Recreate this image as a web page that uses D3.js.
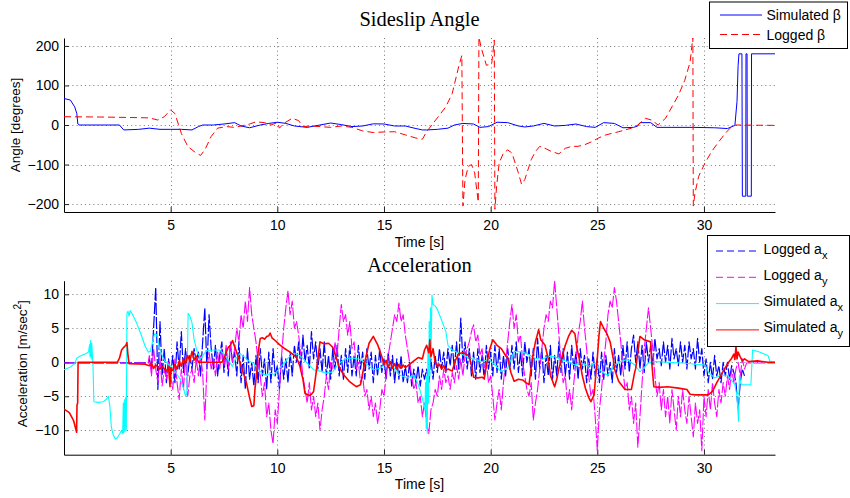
<!DOCTYPE html>
<html><head><meta charset="utf-8">
<script src="https://cdn.jsdelivr.net/npm/d3@7"></script>
<style>
body{margin:0;background:#fff}
svg{display:block}
text{font-family:"Liberation Sans",Arial,Helvetica,sans-serif;fill:#000}
.title{font-family:"Liberation Serif","Times New Roman",serif}
</style></head>
<body><svg id="c" width="850" height="498"></svg>
<script>
// ---------------- DATA ----------------
const timeDomain = [0, 33.33];
const timeTicks = [5, 10, 15, 20, 25, 30];
const angleDomain = [-220, 220];
const angleTicks = [-200, -100, 0, 100, 200];
const accDomain = [-13.6, 12];
const accTicks = [-10, -5, 0, 5, 10];

// Sideslip: [time s, angle deg]
const simBeta = [[0,67],[0.3,63],[0.5,46],[0.6,29],[0.65,2.5],[0.7,0],[2.6,0],[2.8,-12.5],[3.5,-11],[4,-8],[4.5,-11],[5,-11],[5.5,-11],[6,-12.5],[6.3,-4],[6.5,0],[7,0],[7.5,2.5],[8,6],[8.3,-2.5],[8.7,-7],[9.2,0],[9.6,4],[10,7],[10.4,4],[10.8,-2.5],[11.4,-6],[12,0],[12.5,5],[13,1],[13.5,-4],[14,-2.5],[14.5,3],[15,2.5],[15.5,-2.5],[16,-2.5],[16.5,-9],[16.8,-12.5],[17,-12.5],[17.5,-11],[18,-8],[18.3,0],[18.7,4],[19.2,2.5],[19.5,-6],[19.9,-4],[20.3,7],[20.8,6],[21.3,-2.5],[21.6,-5],[22,-2.5],[22.5,4],[23,-2.5],[23.5,-1],[24,2.5],[24.5,-4],[24.9,-6],[25.3,6],[25.8,4],[26.2,-7],[26.7,-6],[26.9,-2.5],[27,6],[27.5,6],[27.8,-6],[28.5,-6],[29.5,-6],[30.5,-7],[31.1,-9],[31.45,-1],[31.55,60],[31.6,150],[31.64,180],[31.78,180],[31.8,-180],[31.96,-180],[31.97,180],[32.02,180],[32.03,-180],[32.22,-180],[32.23,180],[33.33,180]];
const logBeta = [[0,21],[2,20],[3,19],[4,18],[4.4,12.5],[4.7,21],[5,38],[5.2,29],[5.5,-21],[5.8,-54],[6.1,-67],[6.4,-77],[6.6,-63],[6.9,-29],[7.2,-8],[7.6,-4],[8,-6],[8.3,-2.5],[8.7,2.5],[9,8],[9.4,6],[9.7,0],[10,6],[10.1,-8],[10.3,4],[10.7,17],[11,11],[11.2,-4],[11.6,-2.5],[12,-4],[12.5,-6],[13,-2.5],[13.5,-6],[14,-15],[14.5,-19],[15,-17.6],[15.5,-17],[16,-25],[16.5,-33],[16.8,-36],[17,-17],[17.3,4],[17.6,25],[17.9,46],[18.2,80],[18.5,147],[18.65,176],[18.7,-205],[18.8,-138],[18.95,-105],[19.1,-100],[19.25,-121],[19.42,-195],[19.45,222],[19.57,193],[19.8,151],[20.05,155],[20.17,215],[20.2,-213],[20.28,-155],[20.4,-96],[20.6,-71],[20.8,-63],[21,-71],[21.3,-121],[21.45,-150],[21.6,-138],[21.9,-88],[22.1,-67],[22.3,-54],[22.55,-59],[22.85,-67],[23.2,-73],[23.5,-59],[23.8,-54],[24.1,-54],[24.4,-50],[24.75,-42],[25.05,-33],[25.4,-25],[25.7,-21],[26,-17],[26.3,-12.6],[26.6,-8],[26.9,0],[27.25,17],[27.55,12.5],[27.85,0],[28.2,17],[28.5,46],[28.8,75],[29.1,113],[29.35,159],[29.48,222],[29.5,-205],[29.58,-172],[29.75,-130],[30.05,-96],[30.36,-67],[30.7,-42],[31,-21],[31.3,-4],[31.5,0],[33.33,-1]];

// Acceleration, simulated: [time s, m/s^2]
const simAx = [[0,-1.1],[0.3,-0.7],[0.5,-0.2],[0.6,0.6],[0.8,1.0],[1.05,1.3],[1.15,1.5],[1.2,2.6],[1.22,0.8],[1.25,3.2],[1.28,0.5],[1.3,2.8],[1.33,1.2],[1.36,-0.5],[1.4,-5.8],[1.6,-5.9],[1.85,-5.8],[2.0,-5.4],[2.08,-5.0],[2.15,-6.5],[2.22,-9.5],[2.3,-10.6],[2.4,-11.3],[2.5,-11.1],[2.6,-10.6],[2.7,-10.0],[2.75,-10.5],[2.78,-6],[2.8,-10.4],[2.83,-5.5],[2.86,-10.2],[2.89,-5.2],[2.92,-10],[2.95,7.2],[3.0,7.5],[3.05,6.8],[3.1,7.6],[3.2,7.1],[3.4,5.8],[3.6,4.2],[3.8,2.4],[3.95,1.5],[4.05,1.6],[4.15,3.0],[4.25,4.2],[4.35,4.0],[4.5,1.8],[4.7,0.3],[4.9,-0.3],[5.1,-0.8],[5.3,-1.8],[5.45,-2.5],[5.6,-3.8],[5.7,-5.0],[5.76,-4.5],[5.82,7.2],[5.9,6.8],[6.0,5.8],[6.1,3.3],[6.25,1.5],[6.4,0.5],[6.55,1.2],[6.7,1.7],[7.0,1.8],[7.3,1.8],[7.5,1.2],[7.7,0.3],[7.9,-0.6],[8.05,0.5],[8.25,1.3],[8.45,0.8],[8.6,0.3],[8.9,-0.2],[9.1,-1.0],[9.3,-1.7],[9.5,-1.9],[9.7,-1.6],[9.85,-1.8],[10.1,-0.9],[10.3,-0.2],[10.5,0.6],[10.75,1.3],[10.95,1.2],[11.2,0.6],[11.45,-0.3],[11.7,-1.1],[12.0,-1.3],[12.3,-1.6],[12.6,-1.4],[12.85,-0.3],[13.1,0.3],[13.3,0.6],[13.6,0.6],[13.9,0.4],[14.2,-0.3],[14.5,-1.1],[14.8,-0.9],[15.1,-0.2],[15.4,-0.6],[15.75,-1.9],[16.1,-2.3],[16.4,-1.9],[16.6,-3.2],[16.8,-5.3],[16.92,-7],[16.95,-3],[16.98,-9.7],[17.0,-2],[17.03,-10.4],[17.06,2],[17.09,-6],[17.12,6],[17.15,-2],[17.18,8],[17.21,2],[17.25,9.9],[17.3,8.5],[17.4,8.3],[17.5,7.8],[17.6,7.0],[17.75,5.8],[17.9,4.5],[18.0,2.5],[18.2,1.8],[18.35,1.6],[18.7,1.1],[19.0,0.6],[19.3,0.4],[19.6,0.1],[19.9,0.4],[20.2,-0.4],[20.5,-1.4],[20.8,-0.9],[21.1,1.6],[21.5,1.5],[21.8,1.1],[22.1,0.6],[22.4,0.4],[22.7,0.9],[23.0,0.8],[23.3,0.4],[23.6,0.1],[23.95,-0.4],[24.25,-0.1],[24.6,-0.6],[24.9,-0.1],[25.2,-1.4],[25.5,-1.9],[25.8,-0.4],[26.1,0.1],[26.4,0.4],[26.75,-0.4],[27.0,-1.4],[27.4,-0.1],[27.7,0.1],[28.3,0],[29.0,-0.1],[29.6,-0.3],[30.05,-0.4],[30.2,-1.4],[30.5,-2.3],[30.8,-1.9],[31.1,-1.9],[31.45,-3.3],[31.55,-5],[31.62,-8.7],[31.66,-2],[31.75,-3.3],[32.2,-3.3],[32.28,1.8],[32.6,1.5],[33.0,1.0],[33.1,0.1],[33.33,0]];
const simAy = [[0,-6.9],[0.25,-7.4],[0.45,-8.6],[0.55,-9.8],[0.59,-10.3],[0.61,-6.3],[0.64,-6.0],[0.66,0],[2.5,0],[2.6,0.6],[2.7,1.8],[2.8,2.2],[2.9,2.5],[2.95,2.9],[3.0,1.0],[3.05,-0.2],[3.8,-0.3],[4.0,-0.5],[4.1,-0.1],[4.2,-0.9],[4.3,-0.4],[4.5,-1.0],[4.6,-0.6],[4.8,-1.3],[4.9,-0.7],[4.97,-3.6],[5.0,-0.8],[5.1,-1.2],[5.2,-0.3],[5.3,-1.0],[5.4,0.2],[5.5,-0.6],[5.6,0.5],[5.7,-0.2],[5.8,1.0],[5.9,0.1],[6.0,1.6],[6.1,0.3],[6.2,0.9],[6.3,0],[7.4,0],[7.5,0.6],[7.6,1.4],[7.7,2.2],[7.8,2.5],[7.9,3.2],[8.0,2.3],[8.1,1.4],[8.25,0],[8.4,-1.5],[8.55,-3],[8.7,-5.2],[8.8,-6.5],[8.9,-6.4],[8.95,-4],[9.05,-1],[9.1,1.5],[9.2,3.5],[9.3,3.6],[9.4,3.4],[9.5,3.8],[9.6,3.9],[9.66,4.3],[9.75,3.6],[9.9,3.2],[10.1,2.6],[10.3,2.1],[10.6,1.5],[10.9,0.7],[11.05,-0.5],[11.2,-2.5],[11.3,-4.6],[11.5,-4.9],[11.6,-4.7],[11.7,-4.3],[11.8,-2],[11.9,0.5],[12.0,3.0],[12.2,2.7],[12.4,2.8],[12.5,2.5],[12.6,2.2],[12.75,0.8],[12.9,-0.7],[13.1,-1.8],[13.4,-2.9],[13.7,-3.6],[13.9,-3.3],[14.1,0],[14.3,2.8],[14.5,3.8],[14.7,2.6],[14.9,0.8],[15.0,-0.4],[15.1,0.3],[15.2,-0.8],[15.3,0.1],[15.4,-0.9],[15.5,-0.2],[15.6,-1.0],[15.7,-0.3],[15.8,-0.9],[15.9,-0.4],[16.0,-0.8],[16.2,-0.3],[16.4,0.2],[16.6,0.7],[16.8,0.5],[16.9,1.8],[17.0,2.5],[17.1,1.4],[17.15,3.3],[17.2,0.8],[17.3,2.0],[17.4,0],[17.5,-0.6],[17.6,-0.3],[17.7,-1.0],[17.8,-0.5],[17.9,-1.2],[18.0,-1.0],[18.2,-1.3],[18.35,0.3],[18.5,1.3],[18.7,1.4],[18.85,1.2],[19.0,0.9],[19.1,-0.5],[19.2,-2.2],[19.4,-2.3],[19.6,-2.2],[19.7,-2.4],[19.8,-0.5],[19.95,1.8],[20.1,3.3],[20.3,2.5],[20.5,2.0],[20.7,1.0],[20.8,0.6],[20.95,-1.5],[21.1,-2.8],[21.3,-2.5],[21.5,-2.6],[21.65,-3.0],[21.8,-3.3],[21.95,0.5],[22.1,3.0],[22.25,4.8],[22.35,3.3],[22.55,2.5],[22.7,0.5],[22.8,-1.9],[23.0,-3.6],[23.1,-2.5],[23.2,-0.9],[23.35,0.8],[23.5,2.5],[23.65,3.8],[23.8,4.7],[23.95,4.2],[24.05,2.0],[24.15,0.6],[24.3,-2],[24.45,-3.9],[24.6,-5.2],[24.7,-5.8],[24.85,-4.8],[24.95,-1],[25.0,0.6],[25.08,4],[25.15,6],[25.3,5],[25.45,4.2],[25.6,3],[25.75,0.5],[25.8,-0.9],[26.0,-2.8],[26.2,-3.6],[26.3,-4.0],[26.6,-4.0],[26.75,-1.5],[26.8,-0.9],[26.9,1.5],[27.0,3.8],[27.2,3.3],[27.5,3.0],[27.55,0],[27.65,-3.6],[27.9,-3.7],[28.3,-3.6],[28.8,-3.8],[29.2,-4.0],[29.35,-4.7],[29.6,-4.8],[30.0,-4.8],[30.2,-4.8],[30.4,-4.3],[30.6,-3],[30.8,-1.9],[31.0,-0.8],[31.2,0.2],[31.3,0.6],[31.4,1.2],[31.45,0.4],[31.5,2.3],[31.55,0.5],[31.6,1.5],[31.7,0.8],[31.8,0.2],[31.9,0.5],[32.1,0.1],[32.5,0.2],[33.0,0],[33.33,0]];

// Acceleration, logged: quiet segment before, sampled segment (start 4.0 s, every 0.1 s), segment after
const loggedStart = 4.0, loggedStep = 0.1;
const logAxBefore = [[0,-0.1],[3.95,-0.1]];
const logAx = [
 0.5,-1,5,11,-4,6,-2,2,-3,0.5,
 -2,1,-3,3,-1,4.5,-1.5,2,-2,1,
 -1,2,0,1.5,-2,3,8,-1,7,2,
 -1,2.5,-2,1,3,-1.5,2,-2,2.5,0,
 1.5,-2,3,-3,1,-4,2,-2.5,0,-3.5,
 1,-3,2,-2,0.5,-4,1.5,-3,2,-2,
 -0.5,-4,1,-2.5,0.5,-3,1.5,-2,2.5,0,
 3,-1,4,0,2.5,-1,4.5,0.5,3,-1,
 2,-1.5,3,-2,1,-2.5,2,-1,2.5,-2,
 1,-2.5,2,-1.5,2.5,-2,1,-2,2.5,-1,
 1.5,-2.5,2,-1,1.5,-3,1,-2,2,-1.5,
 0.5,-2.5,1.5,-2,1,-3,0.5,-2.5,1,-3,
 -0.5,-3,0,-3.5,-1,-3,-0.5,-3.5,-1,-2.5,
 -1,-3,0.5,-2.5,1,-1.5,2,-1,1.5,-1.5,
 2,-0.5,2.5,-1,3,-1,6.5,0,3,-1,
 2,-2,1.5,-2.5,2,-1.5,1,-2.5,2.5,-1,
 1.5,-2,2.5,-1.5,2,-2.5,1,-2,2,-1,
 2.5,-1,3,-1.5,1.5,-2,3,0,2,-2,
 2,-2.5,3.5,-1,2,-3,1,-2,2.5,-2.5,
 1,-2,3,-1.5,2,-2,1.5,-2.5,2.5,-1,
 1.5,-2.5,2,-1,1,-3,0.5,-2.5,1.5,-2,
 0.5,-3,1.5,-2.5,1,-2,0,-3,2,-1.5,
 1,-2,2.5,-1,3,-1.5,2,4,0,3,
 -1,2.5,-1.5,3,0,2.5,-0.5,3.5,0.5,2,
 -0.5,3,0,2.5,-1,3.5,0.5,2,-0.5,3,
 0,2.5,-1,3,0.5,2,-1,3.5,0,2,
 -2,0.5,-3,0,-2.5,1,-2,-0.5,-3,0,
 -2,0,-2.5,-0.5,-1.5,-3,-7,-3,-1,-2];
const logAxAfter = [];
const logAyBefore = [[0,-0.1],[3.95,-0.1]];
const logAy = [
 1,-2,2,-1,-3,0.5,-3.5,-1,-2.5,0,
 -2,-4,0.5,-3,-5.5,-1,-4,1,-5,-2,
 -1,-3,0.5,-2,1,-1.5,-8.5,-1,1.5,-1,
 0.5,-2,1.5,-1,2,-0.5,2.5,-1,3,0,
 2,5,3,7,5,9,6,11,7,5,
 3,0,-2,-5,-3,-8,-6,-10,-12,-7,
 -9,-4,1,5,8,10.5,7,9,5,6,
 4,1,-2,-4,-6,-3,-7,-5,-8,-6,
 -10,-7,-5,-2,-4,0,-1,3,1,5,
 8.5,6,7,4,6,2,3,-1,0,-3,
 -2,-5,-4,-7,-5,-8,-6,-9,-7,-4,
 -5,-2,1,3,5,7,6,8.7,6,7,
 4,2,0,-2,-4,-3,-6,-5,-8,-6,
 -9,-10.5,-7,-6,-4,-5,-2,-4,-1,-3,
 -2,-4,-1.5,-3,-0.5,-2.5,0.5,-2,1,2,
 3,4.5,5.5,3,4,1,2,-1,0,-3,
 -2,-5,-8.5,-6,-4,-7,-3,0,3,6,
 8.5,5,7,3,4,0,-2,-4,-5,-3,
 -8.5,-6,-4,-1,2,5,7,6,9,8,
 12,8,4,0,-3,-2,-6,-4,-7,-3,
 0,4,6,9,5,2,-2,-5,-4,-8,
 -13,-7,-4,0,3,7,9,8,11,9,
 6,3,-1,-4,-3,-7,-5,-9,-6,-12.5,
 -8,-3,2,5,8,5,2,-2,-5,-3,
 -7,-4,-8,-5,-9,-4,-7,-10,-5,-8,
 -4,-7,-9,-5,-8,-11,-6,-9,-7,-13,
 -5,-8,-4,-7,-3,-6,-8,-4,-6,-3,
 -5,-2,-4,-1,-3,-1,0,-2,0.5,-1];
const logAyAfter = [[32.0,-0.1],[33.33,-0.1]];

// ---------------- DRAW ----------------
const svg = d3.select('#c');
const topBox = {l:64, r:775, t:38, b:212};
const botBox = {l:64, r:775, t:280.7, b:454.7};

function sampled(before, vals, after){
  return before.concat(vals.map((v,i)=>[loggedStart + i*loggedStep, v]), after);
}

function panel(box, yDomain, yTicks, id){
  const x = d3.scaleLinear().domain(timeDomain).range([box.l, box.r]);
  const y = d3.scaleLinear().domain(yDomain).range([box.b, box.t]);
  const grid = svg.append('g').attr('stroke','#7a7a7a').attr('stroke-width',1).attr('stroke-dasharray','1,3.2');
  grid.selectAll('.gx').data(timeTicks).join('line')
    .attr('x1',d=>Math.round(x(d))+0.5).attr('x2',d=>Math.round(x(d))+0.5)
    .attr('y1',box.t).attr('y2',box.b);
  grid.selectAll('.gy').data(yTicks).join('line')
    .attr('y1',d=>Math.round(y(d))+0.5).attr('y2',d=>Math.round(y(d))+0.5)
    .attr('x1',box.l).attr('x2',box.r);
  svg.append('clipPath').attr('id',id).append('rect')
    .attr('x',box.l).attr('y',box.t).attr('width',box.r-box.l).attr('height',box.b-box.t);
  const gx = svg.append('g').attr('transform',`translate(0,${box.b})`)
    .call(d3.axisBottom(x).tickValues(timeTicks).tickSizeInner(-5).tickSizeOuter(0).tickPadding(8));
  const gy = svg.append('g').attr('transform',`translate(${box.l},0)`)
    .call(d3.axisLeft(y).tickValues(yTicks).tickSizeInner(-5).tickSizeOuter(0).tickPadding(5));
  [gx,gy].forEach(g=>{
    g.select('.domain').attr('stroke','#000').attr('stroke-width',1);
    g.selectAll('.tick line').attr('stroke','#222');
    g.selectAll('.tick text').attr('font-size',14).attr('font-family','"Liberation Sans",Arial,sans-serif');
  });
  return {x,y};
}

function drawLine(sc, data, color, width, dash, clip){
  const line = d3.line().x(d=>sc.x(d[0])).y(d=>sc.y(d[1]));
  svg.append('path').attr('clip-path',`url(#${clip})`)
    .attr('d', line(data)).attr('fill','none').attr('stroke',color)
    .attr('stroke-width',width).attr('stroke-dasharray',dash||null)
    .attr('stroke-linejoin','round');
}

// top panel
const s1 = panel(topBox, angleDomain, angleTicks, 'clipTop');
drawLine(s1, simBeta, '#0000ff', 1, null, 'clipTop');
drawLine(s1, logBeta, '#ff0000', 1, '7,4', 'clipTop');

// bottom panel
const s2 = panel(botBox, accDomain, accTicks, 'clipBot');
drawLine(s2, sampled(logAxBefore, logAx, logAxAfter), '#0000ff', 1.2, '12,2', 'clipBot');
drawLine(s2, sampled(logAyBefore, logAy, logAyAfter), '#ff00ff', 1.1, '12,2', 'clipBot');
drawLine(s2, simAx, '#00ffff', 1.1, null, 'clipBot');
drawLine(s2, simAy, '#ff0000', 1.6, null, 'clipBot');

// titles and labels
svg.append('text').attr('class','title').attr('x',419.5).attr('y',26).attr('text-anchor','middle')
  .attr('font-size',20.5).text('Sideslip Angle');
svg.append('text').attr('class','title').attr('x',419.5).attr('y',272).attr('text-anchor','middle')
  .attr('font-size',20.5).text('Acceleration');
svg.append('text').attr('x',419.5).attr('y',247).attr('text-anchor','middle').attr('font-size',14).text('Time [s]');
svg.append('text').attr('x',419.5).attr('y',489).attr('text-anchor','middle').attr('font-size',14).text('Time [s]');
svg.append('text').attr('transform',`translate(19.5,${(topBox.t+topBox.b)/2}) rotate(-90)`)
  .attr('text-anchor','middle').attr('font-size',13.5).text('Angle [degrees]');
const yl = svg.append('text').attr('transform',`translate(27,${(botBox.t+botBox.b)/2 - 4}) rotate(-90)`)
  .attr('text-anchor','middle').attr('font-size',13.5);
yl.append('tspan').text('Acceleration [m/sec');
yl.append('tspan').attr('dy',-6).attr('font-size',10).text('2');
yl.append('tspan').attr('dy',6).text(']');

// legends
function legend(box, items){
  svg.append('rect').attr('x',box.x).attr('y',box.y).attr('width',box.w).attr('height',box.h)
    .attr('fill','#fff').attr('stroke','#000').attr('stroke-width',1);
  items.forEach((it,i)=>{
    const ly = box.ly0 + i*box.dy;
    svg.append('line').attr('x1',box.lx1).attr('x2',box.lx2).attr('y1',ly).attr('y2',ly)
      .attr('stroke',it.color).attr('stroke-width',1).attr('stroke-dasharray',it.dash||null);
    const t = svg.append('text').attr('x',box.tx).attr('y',ly+box.off).attr('font-size',14);
    t.append('tspan').text(it.label);
    if(it.sub) t.append('tspan').attr('dy',5).attr('font-size',11).text(it.sub);
  });
}
legend({x:709.5,y:2,w:138,h:46.5,ly0:15,dy:19.5,lx1:720,lx2:762,tx:766.5,off:5},[
  {label:'Simulated β',color:'#0000ff'},
  {label:'Logged β',color:'#ff0000',dash:'7,4'}]);
legend({x:707.5,y:235.5,w:142,h:111,ly0:251,dy:26.3,lx1:716,lx2:759,tx:763.5,off:2.5},[
  {label:'Logged a',sub:'x',color:'#0000ff',dash:'7,4'},
  {label:'Logged a',sub:'y',color:'#ff00ff',dash:'7,4'},
  {label:'Simulated a',sub:'x',color:'#00ffff'},
  {label:'Simulated a',sub:'y',color:'#ff0000'}]);
</script></body></html>
